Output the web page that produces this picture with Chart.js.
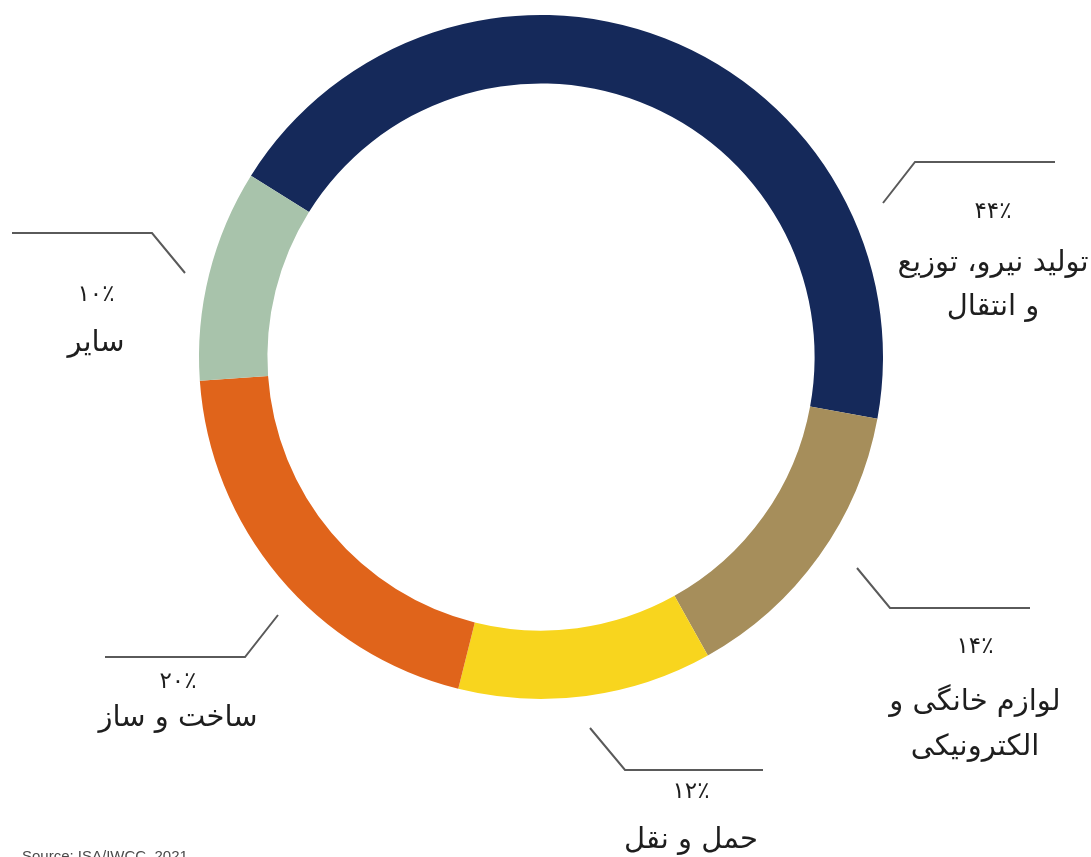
<!DOCTYPE html>
<html>
<head>
<meta charset="utf-8">
<script src="https://cdn.jsdelivr.net/npm/chart.js@4.4.0/dist/chart.umd.min.js"></script>
<style>
  html, body { margin: 0; padding: 0; background: #ffffff; }
  #wrap { position: relative; width: 1091px; height: 857px; overflow: hidden; }
  canvas { display: block; }
</style>
</head>
<body>
<div id="wrap"><canvas id="c" width="1091" height="857"></canvas></div>
<script>
// ---- data ----
const categories = ["تولید نیرو، توزیع و انتقال", "لوازم خانگی و الکترونیکی", "حمل و نقل", "ساخت و ساز", "سایر"];
const shares = [44, 14, 12, 20, 10];
const percentLabels = ["۴۴٪", "۱۴٪", "۱۲٪", "۲۰٪", "۱۰٪"];
const labelLines = [
  ["تولید نیرو، توزیع", "و انتقال"],
  ["لوازم خانگی و", "الکترونیکی"],
  ["حمل و نقل"],
  ["ساخت و ساز"],
  ["سایر"]
];
const colors = ["#15295a", "#a68e5b", "#f8d51e", "#e0641b", "#a8c3ab"];
const sourceText = "Source: ISA/IWCC, 2021";

// ---- annotation layout (pixel offsets from the ring centre) ----
const leaderLayout = [
  { pts: [[342, -154], [374, -195], [514, -195]], tx: 452, ty: [-145, -94, -50] },
  { pts: [[316, 211], [349, 251], [489, 251]], tx: 434, ty: [290, 345, 390] },
  { pts: [[49, 371], [84, 413], [222, 413]], tx: 150, ty: [435, 483] },
  { pts: [[-263, 258], [-296, 300], [-436, 300]], tx: -363, ty: [325, 361] },
  { pts: [[-356, -84], [-389, -124], [-529, -124]], tx: -445, ty: [-62, -14] }
];

const leaderPlugin = {
  id: 'leaders',
  afterDraw(chart) {
    const ctx = chart.ctx;
    const arc = chart.getDatasetMeta(0).data[0];
    const cx = arc.x, cy = arc.y;
    ctx.save();
    ctx.strokeStyle = '#5a5a5a';
    ctx.lineWidth = 2;
    ctx.lineJoin = 'miter';
    leaderLayout.forEach((L, i) => {
      ctx.beginPath();
      L.pts.forEach((p, k) => {
        if (k === 0) ctx.moveTo(cx + p[0], cy + p[1]);
        else ctx.lineTo(cx + p[0], cy + p[1]);
      });
      ctx.stroke();
      ctx.fillStyle = '#1e1e1e';
      ctx.textAlign = 'center';
      ctx.textBaseline = 'middle';
      ctx.direction = 'rtl';
      ctx.font = '23px "DejaVu Sans"';
      ctx.fillText(percentLabels[i], cx + L.tx, cy + L.ty[0]);
      ctx.font = '29px "DejaVu Sans"';
      labelLines[i].forEach((t, j) => {
        ctx.fillText(t, cx + L.tx, cy + L.ty[j + 1]);
      });
    });
    ctx.direction = 'ltr';
    ctx.textAlign = 'left';
    ctx.textBaseline = 'top';
    ctx.fillStyle = '#4a4a4a';
    ctx.font = '15px "Liberation Sans", Arial, sans-serif';
    ctx.fillText(sourceText, 22, 849);
    ctx.restore();
  }
};

new Chart(document.getElementById('c'), {
  type: 'doughnut',
  data: {
    labels: categories,
    datasets: [{
      data: shares,
      backgroundColor: colors,
      borderWidth: 0,
      hoverOffset: 0,
      offset: 0
    }]
  },
  options: {
    responsive: false,
    animation: false,
    cutout: '80%',
    rotation: -58,
    layout: { padding: { left: 199, right: 208, top: 15, bottom: 158 } },
    plugins: {
      legend: { display: false },
      tooltip: { enabled: false }
    }
  },
  plugins: [leaderPlugin]
});
</script>
</body>
</html>
